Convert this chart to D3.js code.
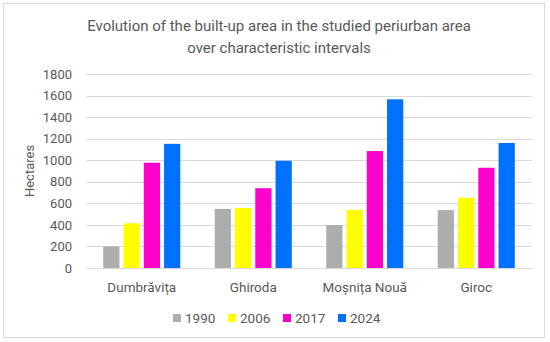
<!DOCTYPE html>
<html>
<head>
<meta charset="utf-8">
<title>Built-up area</title>
<style>
  body { margin: 0; background: #fff; }
  text { font-family: Roboto, sans-serif; }
</style>
</head>
<body>
<script src="https://d3js.org/d3.v7.min.js"></script>
<script>
// data
var categories = ["Dumbrăvița", "Ghiroda", "Moșnița Nouă", "Giroc"];
var years = ["1990", "2006", "2017", "2024"];
var values1990 = [200, 548, 398, 537];
var values2006 = [415, 557, 540, 652];
var values2017 = [977, 740, 1085, 930];
var values2024 = [1152, 995, 1565, 1160];
var yTicks = [0, 200, 400, 600, 800, 1000, 1200, 1400, 1600, 1800];
var colors = ["#ADADAD", "#FFFF00", "#FF00CC", "#0070FF"];

var series = [values1990, values2006, values2017, values2024];

var W = 550, H = 342;
var svg = d3.select("body").append("svg")
    .attr("width", W)
    .attr("height", H);

// frame
svg.append("rect")
    .attr("x", 3.5).attr("y", 3.5)
    .attr("width", 541).attr("height", 334)
    .attr("fill", "#fff")
    .attr("stroke", "#D9D9D9");

// title
var title = svg.append("text")
    .attr("text-anchor", "middle")
    .attr("fill", "#595959")
    .style("font-size", "15px");
title.append("tspan").attr("x", 279).attr("y", 31)
    .text("Evolution of the built-up area in the studied periurban area");
title.append("tspan").attr("x", 279).attr("y", 53)
    .text("over characteristic intervals");

var plotL = 86, plotR = 532, plotT = 74, plotB = 268;

var x = d3.scaleBand().domain(categories).range([plotL, plotR]).paddingInner(0).paddingOuter(0);
var x1 = d3.scaleBand().domain(years).range([0, x.bandwidth()]).paddingInner(0.2).paddingOuter(0.85);
var y = d3.scaleLinear().domain([0, 1800]).range([plotB, plotT]);

// gridlines
svg.append("g").selectAll("line")
    .data(yTicks)
    .join("line")
    .attr("x1", plotL).attr("x2", plotR)
    .attr("y1", d => Math.round(y(d)) + 0.5)
    .attr("y2", d => Math.round(y(d)) + 0.5)
    .attr("stroke", "#D9D9D9")
    .attr("stroke-width", 1);

// y axis labels
var yAxis = svg.append("g")
    .attr("transform", "translate(" + (plotL - 14) + ",0)")
    .call(d3.axisLeft(y).tickValues(yTicks).tickFormat(d3.format("d")).tickSize(0).tickPadding(0));
yAxis.select(".domain").remove();
yAxis.selectAll("text")
    .attr("fill", "#595959")
    .style("font-size", "13px")
    .style("font-family", "Roboto, sans-serif");

// y axis title
svg.append("text")
    .attr("transform", "translate(34," + ((plotT + plotB) / 2) + ") rotate(-90)")
    .attr("text-anchor", "middle")
    .attr("fill", "#595959")
    .style("font-size", "13px")
    .text("Hectares");

// bars
var groups = svg.append("g").selectAll("g")
    .data(categories)
    .join("g")
    .attr("transform", d => "translate(" + x(d) + ",0)");

groups.selectAll("rect")
    .data((c, i) => years.map((yr, k) => ({ year: yr, value: series[k][i], k: k })))
    .join("rect")
    .attr("x", d => x1(d.year))
    .attr("width", x1.bandwidth())
    .attr("y", d => y(d.value))
    .attr("height", d => y(0) - y(d.value))
    .attr("fill", d => colors[d.k]);

// x axis labels
var xAxis = svg.append("g")
    .attr("transform", "translate(0," + (plotB + 24) + ")")
    .call(d3.axisBottom(x).tickSize(0).tickPadding(0));
xAxis.select(".domain").remove();
xAxis.selectAll("text")
    .attr("dy", 0)
    .attr("fill", "#595959")
    .style("font-size", "13.5px")
    .style("font-family", "Roboto, sans-serif");

// legend
var legend = svg.append("g").selectAll("g")
    .data(years)
    .join("g")
    .attr("transform", (d, i) => "translate(" + (173 + i * 55) + ",318)");
legend.append("rect")
    .attr("x", 0).attr("y", -4)
    .attr("width", 8).attr("height", 8)
    .attr("fill", (d, i) => colors[i]);
legend.append("text")
    .attr("x", 12).attr("y", 5)
    .attr("fill", "#595959")
    .style("font-size", "13.5px")
    .text(d => d);
</script>
</body>
</html>
